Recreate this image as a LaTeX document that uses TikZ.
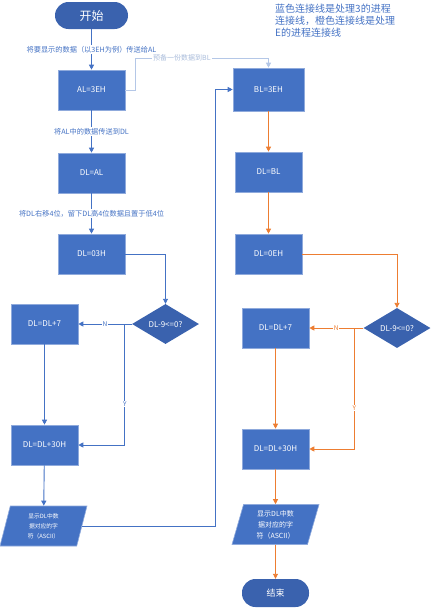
\documentclass[tikz,border=0pt]{standalone}
\usepackage{fontspec}
\setmainfont{Noto Sans CJK SC}
\usetikzlibrary{arrows.meta,shapes.geometric}
\definecolor{bfill}{HTML}{4472C4}
\definecolor{bedge}{HTML}{8FAADC}
\definecolor{dfill}{HTML}{3A62AE}
\definecolor{oline}{HTML}{ED7D31}
\definecolor{gline}{HTML}{B4C7E7}
\definecolor{gtext}{HTML}{A9BCDB}
\tikzset{
  box/.style={rectangle, fill=bfill, draw=bedge, line width=0.6pt, minimum width=67pt, minimum height=40pt, text=white, font=\fontsize{8}{9}\selectfont, inner sep=1pt},
  term/.style={rectangle, rounded corners=13.5pt, fill=dfill, minimum width=73pt, minimum height=27pt, text=white, inner sep=1pt},
  dia/.style={diamond, aspect=1.675, fill=dfill, minimum width=67pt, minimum height=40pt, inner sep=0pt, text=white, font=\fontsize{8}{9}\selectfont},
  io/.style={trapezium, trapezium left angle=68, trapezium right angle=112, trapezium stretches body, fill=bfill, draw=bedge, line width=0.6pt, minimum width=87pt, minimum height=40pt, inner sep=0pt, text=white, align=center},
  bl/.style={draw=bfill, line width=0.9pt, -{Triangle[length=5pt,width=5pt]}},
  ol/.style={draw=oline, line width=0.9pt, -{Triangle[length=5pt,width=5pt]}},
  gl/.style={draw=gline, line width=0.8pt, -{Triangle[length=5pt,width=5pt]}},
  lab/.style={fill=white, text=bfill, inner sep=1pt, font=\fontsize{7.2}{8}\selectfont},
  yn/.style={fill=white, inner sep=0.8pt, font=\fontsize{6.5}{7}\selectfont},
}
\begin{document}
\begin{tikzpicture}[x=1pt,y=-1pt]
\useasboundingbox (0,0) rectangle (431,608);
% left column
\node[term, font=\fontsize{12}{13}\selectfont] (start) at (91.5,15.5) {开始};
\node[box] (al) at (91.5,90) {AL=3EH};
\node[box] (dlal) at (91.5,173) {DL=AL};
\node[box] (dl03) at (91.5,254) {DL=03H};
\node[dia] (d1) at (165.5,324) {DL-9<=0?};
\node[box] (p7a) at (44.5,324) {DL=DL+7};
\node[box] (p30a) at (44.5,445) {DL=DL+30H};
\node[io, font=\fontsize{5.8}{10}\selectfont] (io1) at (43.5,526) {显示DL中数\\据对应的字\\符（ASCII）};
% right column
\node[box, minimum width=71pt, minimum height=43pt] (bl3) at (268.5,89.5) {BL=3EH};
\node[box] (dlbl) at (268.5,172) {DL=BL};
\node[box] (dl0e) at (268.5,254) {DL=0EH};
\node[dia] (d2) at (397,328) {DL-9<=0?};
\node[box] (p7b) at (275.5,328) {DL=DL+7};
\node[box] (p30b) at (275.5,449) {DL=DL+30H};
\node[io, font=\fontsize{7}{11}\selectfont] (io2) at (275.5,524.5) {显示DL中数\\据对应的字\\符（ASCII）};
\node[term, minimum width=67pt, minimum height=28pt, font=\fontsize{9}{10}\selectfont] (end) at (275.5,593) {结束};
% note
\node[anchor=north west, align=left, text=bfill, inner sep=0pt, font=\fontsize{10}{11.7}\selectfont] (note) at (275,4) {蓝色连接线是处理3的进程\\连接线，橙色连接线是处理\\E的进程连接线};
% blue connectors
\draw[bl] (start) -- node[lab]{将要显示的数据（以3EH为例）传送给AL} (al);
\draw[bl] (al) -- node[lab]{将AL中的数据传送到DL} (dlal);
\draw[bl] (dlal) -- node[lab]{将DL右移4位，留下DL高4位数据且置于低4位} (dl03);
\draw[bl] (dl03.east) -| (d1.north);
\draw[bl] (d1.west) -- node[yn, text=bfill]{N} (p7a.east);
\draw[bl] (d1.west) -- ++(-7,0) |- node[yn, text=bfill, pos=0.33]{Y} (p30a.east);
\draw[bl] (p7a) -- (p30a);
\draw[bl] (p30a) -- (io1);
\draw[bl] (io1.east) -- ++(133.5,0) |- (bl3.west);
% gray connector
\draw[gl] (al.east) -- ++(10,0) -- ++(0,-32) -| node[pos=0.175, fill=white, text=gtext, inner sep=1pt, font=\fontsize{7}{8}\selectfont]{预备一份数据到BL} (bl3.north);
% orange connectors
\draw[ol] (bl3) -- (dlbl);
\draw[ol] (dlbl) -- (dl0e);
\draw[ol] (dl0e.east) -| (d2.north);
\draw[ol] (d2.west) -- node[yn, text=oline]{N} (p7b.east);
\draw[ol] (d2.west) -- ++(-9,0) |- node[yn, text=oline, pos=0.33]{Y} (p30b.east);
\draw[ol] (p7b) -- (p30b);
\draw[ol] (p30b) -- (io2);
\draw[ol] (io2) -- (end);
\end{tikzpicture}
\end{document}
